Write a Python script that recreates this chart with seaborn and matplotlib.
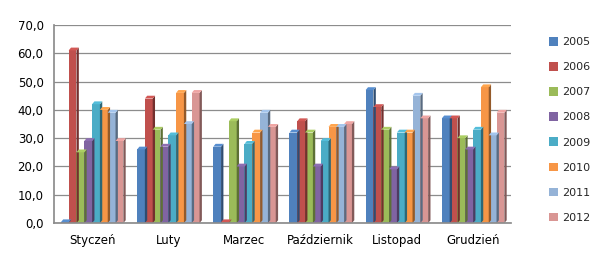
import matplotlib
matplotlib.use("Agg")
import matplotlib.pyplot as plt
import matplotlib.colors as mcolors
import seaborn as sns
import pandas as pd
import numpy as np
from matplotlib.ticker import FuncFormatter

months = ["Styczeń", "Luty", "Marzec", "Październik", "Listopad", "Grudzień"]
years = ["2005", "2006", "2007", "2008", "2009", "2010", "2011", "2012"]
v2005 = [0.3, 26, 27, 32, 47, 37]
v2006 = [61, 44, 0.3, 36, 41, 37]
v2007 = [25, 33, 36, 32, 33, 30]
v2008 = [29, 27, 20, 20, 19, 26]
v2009 = [42, 31, 28, 29, 32, 33]
v2010 = [40, 46, 32, 34, 32, 48]
v2011 = [39, 35, 39, 34, 45, 31]
v2012 = [29, 46, 34, 35, 37, 39]
colors = ["#4F81BD", "#C0504D", "#9BBB59", "#8064A2", "#4BACC6", "#F79646", "#95B3D7", "#D99694"]

series = [v2005, v2006, v2007, v2008, v2009, v2010, v2011, v2012]
rows = []
for y, vals in zip(years, series):
    for m, v in zip(months, vals):
        rows.append({"Miesiąc": m, "Rok": y, "Wartość": v})
df = pd.DataFrame(rows)

sns.set_theme(style="white")
plt.rcParams["font.family"] = ["DejaVu Sans"]

fig = plt.figure(figsize=(6, 2.6), dpi=100)
ax = fig.add_axes([0.09, 0.142, 0.762, 0.762])

sns.barplot(data=df, x="Miesiąc", y="Wartość", hue="Rok", order=months,
            hue_order=years, palette=colors, width=0.82, ax=ax,
            edgecolor="none", saturation=1, legend=True)

# pseudo-3D side shading derived from bars
for p in list(ax.patches):
    if p.get_height() <= 0:
        continue
    x0 = p.get_x(); w = p.get_width(); h = p.get_height()
    c = np.array(mcolors.to_rgb(p.get_facecolor()))
    side = tuple(c * 0.6)
    top = tuple(np.clip(c * 1.1, 0, 1))
    dx = w * 0.3; dy = 1.0
    ax.add_patch(plt.Polygon([[x0 + w, 0], [x0 + w + dx, dy], [x0 + w + dx, h + dy], [x0 + w, h]],
                             closed=True, facecolor=side, edgecolor="none", zorder=p.get_zorder()))
    ax.add_patch(plt.Polygon([[x0, h], [x0 + dx, h + dy], [x0 + w + dx, h + dy], [x0 + w, h]],
                             closed=True, facecolor=top, edgecolor="none", zorder=p.get_zorder()))

ax.set_ylim(0, 70)
ax.set_yticks(np.arange(0, 71, 10))
ax.yaxis.set_major_formatter(FuncFormatter(lambda v, _: f"{v:.1f}".replace(".", ",")))
ax.set_xlim(-0.5, len(months) - 0.5)
ax.grid(axis="y", color="#8c8c8c", linewidth=0.9)
ax.set_axisbelow(True)
ax.set_xlabel("")
ax.set_ylabel("")
for s in ["top", "right"]:
    ax.spines[s].set_visible(False)
ax.spines["left"].set_color("#8c8c8c")
ax.spines["bottom"].set_color("#8c8c8c")
ax.tick_params(axis="both", labelsize=8.5, colors="#000000", length=4, width=0.8, direction="out", color="#8c8c8c")
ax.tick_params(axis="x", length=0, pad=8)
ax.set_xticks(np.arange(-0.5, len(months), 1), minor=True)
ax.tick_params(axis="x", which="minor", length=5, color="#8c8c8c", width=0.8)

handles, labels = ax.get_legend_handles_labels()
ax.legend(handles, labels, loc="center left", bbox_to_anchor=(1.06, 0.47), frameon=False,
          fontsize=8, handlelength=0.8, handleheight=0.8, labelspacing=1.35, handletextpad=0.4)

fig.savefig("out.png", dpi=100)
